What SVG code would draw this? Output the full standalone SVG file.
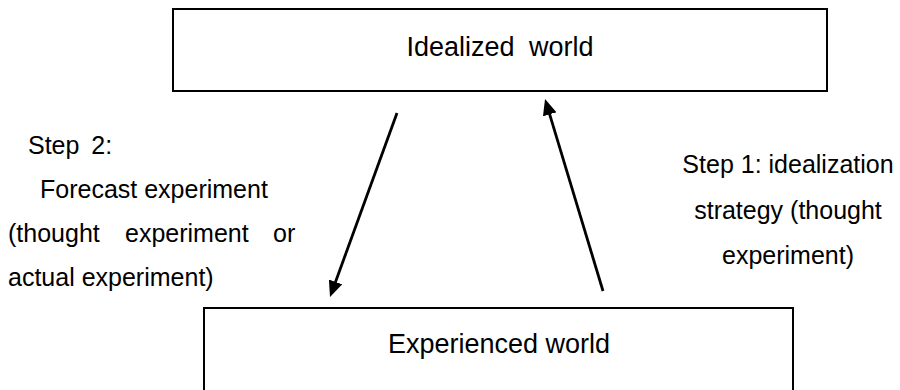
<svg xmlns="http://www.w3.org/2000/svg" width="900" height="390" viewBox="0 0 900 390">
<defs>
<style>
.box{fill:#fff;stroke:#000;stroke-width:2}
.t{font-family:"Liberation Sans",Arial,sans-serif;fill:#000}
.lbl{font-size:27px;text-anchor:middle}
.side{font-size:25px}
.c{text-anchor:middle}
.conn{stroke:#000;stroke-width:2.8;fill:none}
</style>
<marker id="ah" markerUnits="userSpaceOnUse" markerWidth="18" markerHeight="14" refX="12" refY="7" orient="auto">
<path d="M0,0 L16,7 L0,14 Z" fill="#000"/>
</marker>
</defs>
<rect width="900" height="390" fill="#fff"/>
<g id="idealized">
<rect class="box" x="173" y="9" width="654" height="82"/>
<text class="t lbl" x="500" y="56" word-spacing="7">Idealized world</text>
</g>
<g id="experienced">
<rect class="box" x="204" y="308" width="589" height="100"/>
<text class="t lbl" x="499" y="353">Experienced world</text>
</g>
<g id="connectors">
<line class="conn" x1="397" y1="113" x2="331.4" y2="293.2" marker-end="url(#ah)"/>
<line class="conn" x1="603" y1="291" x2="546.2" y2="102.8" marker-end="url(#ah)"/>
</g>
<g id="step2">
<text class="t side" x="28" y="154" word-spacing="5">Step 2:</text>
<text class="t side" x="40" y="198">Forecast experiment</text>
<text class="t side" x="8" y="242">(thought</text>
<text class="t side" x="125" y="242">experiment</text>
<text class="t side" x="273" y="242">or</text>
<text class="t side" x="8" y="286">actual experiment)</text>
</g>
<g id="step1">
<text class="t side c" x="788" y="173">Step 1: idealization</text>
<text class="t side c" x="788" y="219">strategy (thought</text>
<text class="t side c" x="788" y="264">experiment)</text>
</g>
</svg>
